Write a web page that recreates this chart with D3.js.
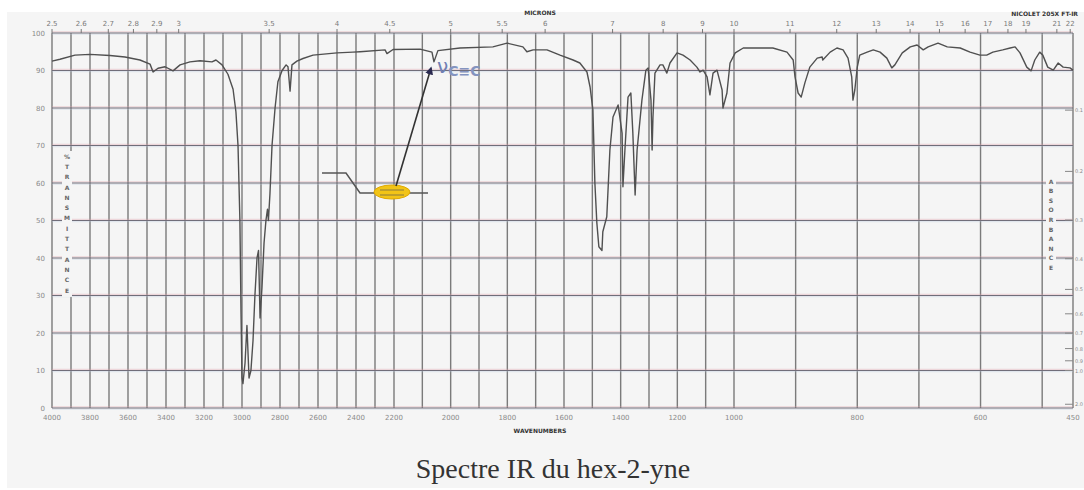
<!DOCTYPE html>
<html>
<head>
<meta charset="utf-8">
<script src="https://cdn.jsdelivr.net/npm/d3@7"></script>
<style>
  body { margin: 0; background: #fff; }
  svg { display: block; }
</style>
</head>
<body>
<div id="chart"></div>
<script>
// spectrum: wavenumber (cm-1) and % transmittance
const wavenumbers = [4000,3958,3879,3800,3695,3616,3537,3484,3468,3442,3405,3363,3326,3274,3221,3158,3137,3105,3074,3047,3032,3021,3011,3005,3000,2995,2984,2974,2963,2953,2942,2932,2921,2913,2905,2895,2884,2874,2866,2861,2853,2842,2826,2811,2789,2768,2758,2747,2737,2711,2679,2626,2500,2416,2379,2247,2237,2205,2108,2066,2059,2045,1967,1851,1801,1745,1731,1709,1660,1614,1568,1544,1519,1508,1498,1491,1484,1477,1466,1463,1449,1438,1427,1409,1395,1392,1385,1374,1364,1357,1349,1342,1325,1311,1303,1293,1289,1286,1279,1261,1251,1237,1226,1201,1180,1155,1131,1120,1109,1095,1085,1074,1060,1042,1039,1025,1014,998,985,963,937,914,904,901,896,891,885,877,865,857,856,844,833,823,815,809,807,804,800,796,784,774,763,752,744,739,727,714,703,693,685,669,654,633,617,601,590,580,564,552,544,536,525,518,512,504,499,491,482,474,466,455,450]
const transmittance = [92.5,93,94.1,94.3,94,93.6,92.8,91.7,89.6,90.6,91,89.9,91.5,92.3,92.6,92.3,92.8,91.5,89,85,79,70,50,25,8,6.5,12,22,8,10,18,30,40,42,24,32,44,50,53,50,57,70,80,87,90,91.5,91,84.5,91.5,92.5,93.2,94.1,94.7,94.9,95,95.5,94.5,95.6,95.7,94.9,92.3,95.3,96,96.3,97.3,96.3,95,95.5,95.5,94.1,92.8,92,89.6,85.6,79.5,60,49.3,43,42,47,51,68.8,77.6,80.8,73.3,59,68.8,82.9,84,73.3,56.8,68.8,82.1,90.1,90.7,82.1,68.8,77.6,89.3,91.5,91.5,89.3,92,94.7,94.1,92.8,90.9,89.6,90.1,88.3,83.5,89.3,90.1,84.8,80,84,92,94.7,96,96,96,94.9,92.8,88.3,84,82.9,86.7,90.9,93.3,93.6,92.8,94.9,96,95.5,93.3,88.3,82.1,84.8,90.9,94.1,94.9,95.5,94.9,93.3,90.7,91.5,94.7,96.3,96.8,95.5,96.3,97.3,96.3,96,94.9,94.1,94.1,94.9,95.5,96,96.3,94.7,90.9,89.9,92.8,94.9,94.1,90.9,90.1,92,90.9,90.7,90.1]

const micronLabels = [2.5,2.6,2.7,2.8,2.9,3,3.5,4,4.5,5,5.5,6,7,8,9,10,11,12,13,14,15,16,17,18,19,21,22]
const wavenumberLabels = [4000,3800,3600,3400,3200,3000,2800,2600,2400,2200,2000,1800,1600,1400,1200,1000,800,600,450]
const percentTicks = [0,10,20,30,40,50,60,70,80,90,100]
const absorbanceTicks = [0.1,0.2,0.3,0.4,0.5,0.6,0.7,0.8,0.9,1.0,2.0]

const W = 1084, H = 490

const svg = d3.select("#chart").append("svg")
    .attr("width", W)
    .attr("height", H)

// scanned page background
svg.append("rect").attr("x", 7).attr("y", 12).attr("width", W - 7).attr("height", H - 14).attr("fill", "#f5f5f5")

// chart paper has three linear pieces: 4000-2200, 2200-1000, 1000-450
const x = d3.scaleLinear().domain([4000, 2200, 1000, 450]).range([52, 394, 734, 1073])
const y = d3.scaleLinear().domain([0, 100]).range([408, 33])

// vertical grid, every 100 cm-1
const gridWn = d3.range(4000, 450, -100).concat([450])
svg.append("g").selectAll("line")
    .data(gridWn)
    .enter().append("line")
    .attr("x1", d => x(d)).attr("x2", d => x(d))
    .attr("y1", y(100)).attr("y2", y(0))
    .attr("stroke", "#666").attr("stroke-width", 1.4).attr("opacity", 0.85)

// horizontal grid, with the faint colour fringes of the scan
const hg = svg.append("g")
hg.selectAll("line.pink").data(percentTicks).enter().append("line")
    .attr("x1", x(4000)).attr("x2", x(450))
    .attr("y1", d => y(d) - 1.2).attr("y2", d => y(d) - 1.2)
    .attr("stroke", "#e0a0a8").attr("stroke-width", 0.8).attr("opacity", 0.55)
hg.selectAll("line.blue").data(percentTicks).enter().append("line")
    .attr("x1", x(4000)).attr("x2", x(450))
    .attr("y1", d => y(d) + 1.2).attr("y2", d => y(d) + 1.2)
    .attr("stroke", "#b8c8dc").attr("stroke-width", 0.8).attr("opacity", 0.5)
hg.selectAll("line.main").data(percentTicks).enter().append("line")
    .attr("x1", x(4000)).attr("x2", x(450))
    .attr("y1", d => y(d)).attr("y2", d => y(d))
    .attr("stroke", "#716e7a").attr("stroke-width", 1.1)

// stacked axis captions with paper showing through the grid
function stacked(text, cx, top, step) {
    const chars = text.split("")
    svg.append("rect").attr("x", cx - 5).attr("y", top - 6)
        .attr("width", 10).attr("height", step * (chars.length - 1) + 12).attr("fill", "#f5f5f5")
    svg.append("g").selectAll("text").data(chars).enter().append("text")
        .attr("x", cx).attr("y", (d, i) => top + i * step)
        .attr("text-anchor", "middle").attr("dominant-baseline", "middle")
        .attr("font-family", "DejaVu Sans").attr("font-size", 6).attr("font-weight", "bold")
        .attr("fill", "#666").text(d => d)
}
stacked("%TRANSMITTANCE", 67, 157, 10.3)
stacked("ABSORBANCE", 1051, 182, 9.6)

// left axis: % transmittance
svg.append("g").selectAll("text").data(percentTicks).enter().append("text")
    .attr("x", 45).attr("y", d => y(d) + 2.5)
    .attr("text-anchor", "end")
    .attr("font-family", "DejaVu Sans").attr("font-size", 7)
    .attr("fill", "#8a8a8a").text(d => d)

// right axis: absorbance
const absY = a => y(100 * Math.pow(10, -a))
svg.append("g").selectAll("line").data(absorbanceTicks).enter().append("line")
    .attr("x1", x(450) - 8).attr("x2", x(450))
    .attr("y1", d => absY(d)).attr("y2", d => absY(d))
    .attr("stroke", "#888").attr("stroke-width", 1)
svg.append("g").selectAll("text").data(absorbanceTicks).enter().append("text")
    .attr("x", 1083).attr("y", d => absY(d) + 2)
    .attr("text-anchor", "end")
    .attr("font-family", "DejaVu Sans").attr("font-size", 5)
    .attr("fill", "#8a8a8a").text(d => d.toFixed(1))

// top axis: microns
const micronAxis = svg.append("g")
micronAxis.selectAll("line").data(micronLabels).enter().append("line")
    .attr("x1", d => x(10000 / d)).attr("x2", d => x(10000 / d))
    .attr("y1", y(100) - 4).attr("y2", y(100))
    .attr("stroke", "#777")
micronAxis.selectAll("text").data(micronLabels).enter().append("text")
    .attr("x", d => x(10000 / d)).attr("y", 26)
    .attr("text-anchor", "middle")
    .attr("font-family", "DejaVu Sans").attr("font-size", 7)
    .attr("fill", "#7a7a7a").text(d => d)

svg.append("text").attr("x", 540).attr("y", 15).attr("text-anchor", "middle")
    .attr("font-family", "DejaVu Sans").attr("font-size", 6).attr("font-weight", "bold")
    .attr("fill", "#333").text("MICRONS")
svg.append("text").attr("x", 1078).attr("y", 16).attr("text-anchor", "end")
    .attr("font-family", "DejaVu Sans").attr("font-size", 6).attr("font-weight", "bold")
    .attr("fill", "#333").text("NICOLET 205X FT-IR")

// bottom axis: wavenumbers
svg.append("g").selectAll("text").data(wavenumberLabels).enter().append("text")
    .attr("x", d => x(d)).attr("y", 420)
    .attr("text-anchor", "middle")
    .attr("font-family", "DejaVu Sans").attr("font-size", 7)
    .attr("fill", "#8a8a8a").text(d => d)
svg.append("text").attr("x", 540).attr("y", 433).attr("text-anchor", "middle")
    .attr("font-family", "DejaVu Sans").attr("font-size", 6).attr("font-weight", "bold")
    .attr("fill", "#333").text("WAVENUMBERS")

// the spectrum
const spectrum = wavenumbers.map((w, i) => ({wn: w, t: transmittance[i]}))
const line = d3.line().x(d => x(d.wn)).y(d => y(d.t))
svg.append("path").datum(spectrum)
    .attr("d", line)
    .attr("fill", "none").attr("stroke", "#505050").attr("stroke-width", 1.4)
    .attr("stroke-linejoin", "round")

// molecule sketch: hex-2-yne chain with the triple bond circled
const mol = svg.append("g")
mol.append("path")
    .attr("d", "M322,173 L346,173 L360,193 L428,193")
    .attr("fill", "none").attr("stroke", "#555").attr("stroke-width", 1.5)
mol.append("ellipse").attr("cx", 392).attr("cy", 192).attr("rx", 18).attr("ry", 7)
    .attr("fill", "#f2c417").attr("stroke", "#e0a800").attr("stroke-width", 1)
mol.append("line").attr("x1", 380).attr("x2", 404).attr("y1", 190).attr("y2", 190)
    .attr("stroke", "#8a7a40").attr("stroke-width", 1)
mol.append("line").attr("x1", 380).attr("x2", 404).attr("y1", 195).attr("y2", 195)
    .attr("stroke", "#8a7a40").attr("stroke-width", 1)

// arrow to the C≡C band
svg.append("defs").append("marker")
    .attr("id", "head").attr("viewBox", "0 0 10 10")
    .attr("refX", 8).attr("refY", 5)
    .attr("markerWidth", 5).attr("markerHeight", 5)
    .attr("orient", "auto")
    .append("path").attr("d", "M0,0 L10,5 L0,10 Z").attr("fill", "#2a2a50")
svg.append("line")
    .attr("x1", 396).attr("y1", 186).attr("x2", 431).attr("y2", 68)
    .attr("stroke", "#333").attr("stroke-width", 1.6)
    .attr("marker-end", "url(#head)")

const lab = svg.append("text").attr("x", 437).attr("y", 73)
    .attr("font-family", "DejaVu Sans").attr("fill", "#7080b4")
lab.append("tspan").attr("font-size", 20).text("ν")
lab.append("tspan").attr("font-size", 14).attr("dy", 3).attr("font-weight", "bold").attr("fill", "#8494c0").text("C≡C")

// caption
svg.append("text").attr("x", 553).attr("y", 478).attr("text-anchor", "middle")
    .attr("font-family", "Liberation Serif").attr("font-size", 28)
    .attr("fill", "#333").text("Spectre IR du hex-2-yne")
</script>
</body>
</html>
